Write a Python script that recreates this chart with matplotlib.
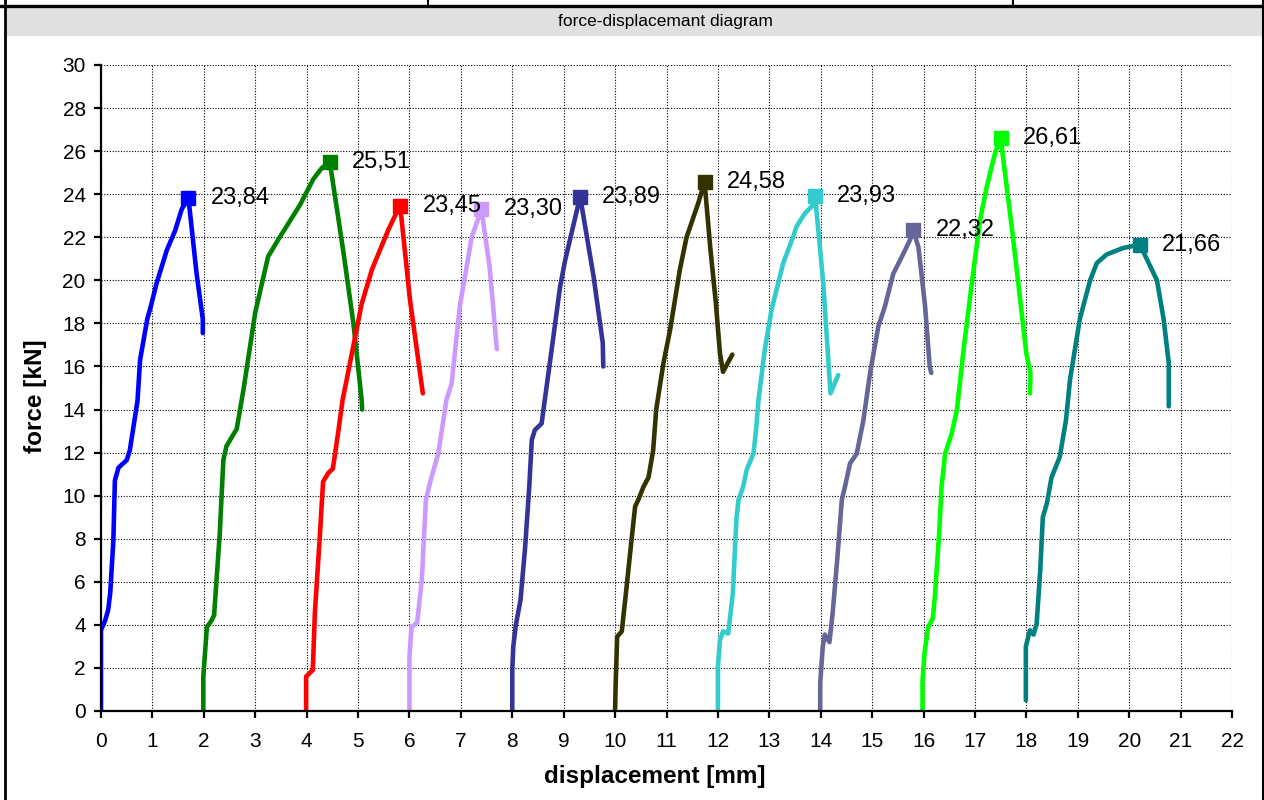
import matplotlib.pyplot as plt
from matplotlib.patches import Rectangle
from matplotlib.lines import Line2D
import numpy as np

plt.rcParams['font.family'] = ['Liberation Sans', 'DejaVu Sans']

# force-displacement curves
disp_1 = [0, 0, 0.08, 0.14, 0.18, 0.24, 0.27, 0.34, 0.5, 0.56, 0.71, 0.76, 0.9, 0.97, 1.08, 1.28, 1.44, 1.57, 1.70, 1.86, 1.98, 1.98]
force_1 = [0, 3.76, 4.2, 4.7, 5.5, 7.9, 10.7, 11.3, 11.65, 12.1, 14.4, 16.3, 18.2, 18.8, 19.85, 21.4, 22.3, 23.3, 23.84, 20.3, 18.2, 17.55]

disp_2 = [1.99, 1.99, 2.06, 2.15, 2.2, 2.31, 2.38, 2.44, 2.64, 2.77, 3.0, 3.25, 3.45, 3.87, 4.13, 4.29, 4.45, 4.71, 4.91, 5.07, 5.08]
force_2 = [0, 1.6, 3.9, 4.2, 4.45, 8.25, 11.65, 12.3, 13.1, 14.9, 18.5, 21.1, 21.9, 23.5, 24.7, 25.2, 25.51, 21.4, 18.0, 14.45, 14.0]

disp_3 = [3.99, 3.99, 4.12, 4.16, 4.26, 4.32, 4.42, 4.51, 4.62, 4.7, 4.78, 5.07, 5.27, 5.59, 5.78, 5.82, 6.01, 6.26]
force_3 = [0, 1.6, 1.9, 4.55, 8.25, 10.65, 11.05, 11.25, 13.05, 14.45, 15.4, 18.9, 20.5, 22.35, 23.3, 23.45, 19.1, 14.75]

disp_4 = [6.0, 6.0, 6.04, 6.15, 6.24, 6.32, 6.41, 6.56, 6.72, 6.82, 6.98, 7.21, 7.40, 7.56, 7.70]
force_4 = [0, 2.5, 3.9, 4.1, 6.1, 9.8, 10.7, 11.95, 14.45, 15.2, 18.8, 22.0, 23.30, 20.6, 16.8]

disp_5 = [8.0, 8.0, 8.02, 8.07, 8.16, 8.25, 8.33, 8.38, 8.44, 8.57, 8.73, 8.93, 9.03, 9.32, 9.58, 9.76, 9.77]
force_5 = [0, 1.9, 3.0, 4.0, 5.15, 7.6, 10.4, 12.6, 13.05, 13.35, 16.15, 19.7, 20.95, 23.89, 20.2, 17.1, 16.0]

disp_6 = [10.0, 10.01, 10.04, 10.13, 10.21, 10.32, 10.39, 10.45, 10.55, 10.65, 10.74, 10.8, 10.94, 11.07, 11.26, 11.39, 11.62, 11.74, 11.85, 11.96, 12.04, 12.1, 12.2, 12.28]
force_6 = [0, 1.15, 3.45, 3.7, 5.45, 7.95, 9.5, 9.8, 10.4, 10.85, 12.1, 14.0, 16.15, 17.7, 20.5, 22.0, 23.6, 24.58, 21.55, 18.95, 16.6, 15.75, 16.2, 16.55]

disp_7 = [12.0, 12.0, 12.04, 12.1, 12.2, 12.29, 12.36, 12.4, 12.49, 12.56, 12.69, 12.74, 12.79, 12.91, 13.04, 13.27, 13.46, 13.53, 13.69, 13.85, 13.89, 14.05, 14.19, 14.34]
force_7 = [0, 2.05, 3.3, 3.7, 3.6, 5.45, 8.9, 9.8, 10.4, 11.2, 11.95, 13.0, 14.45, 16.75, 18.6, 20.8, 22.0, 22.5, 23.1, 23.5, 23.93, 19.85, 14.75, 15.6]

disp_8 = [13.99, 13.99, 14.04, 14.08, 14.17, 14.23, 14.32, 14.41, 14.47, 14.57, 14.7, 14.83, 14.96, 15.12, 15.25, 15.41, 15.61, 15.74, 15.8, 15.9, 16.03, 16.12, 16.15]
force_8 = [0, 1.3, 3.0, 3.55, 3.2, 4.5, 7.0, 9.8, 10.4, 11.5, 11.95, 13.5, 15.7, 17.85, 18.8, 20.3, 21.25, 21.9, 22.32, 21.55, 18.8, 16.0, 15.7]

disp_9 = [15.98, 15.98, 16.02, 16.09, 16.18, 16.22, 16.3, 16.35, 16.42, 16.55, 16.65, 16.77, 16.93, 17.1, 17.23, 17.39, 17.5, 17.74, 18.0, 18.08, 18.07]
force_9 = [0, 1.4, 2.7, 3.9, 4.3, 5.3, 8.1, 10.4, 11.95, 12.9, 14.0, 16.6, 19.7, 22.8, 24.35, 25.9, 26.61, 22.0, 16.6, 15.7, 14.75]

disp_10 = [17.99, 17.99, 18.07, 18.14, 18.2, 18.27, 18.32, 18.4, 18.49, 18.65, 18.77, 18.85, 19.04, 19.24, 19.37, 19.56, 19.88, 20.21, 20.34, 20.54, 20.67, 20.77, 20.77]
force_10 = [0.5, 3.0, 3.75, 3.55, 4.05, 6.55, 9.0, 9.65, 10.85, 11.8, 13.5, 15.4, 18.2, 20.0, 20.8, 21.2, 21.5, 21.66, 21.0, 20.0, 18.2, 16.15, 14.15]

colors = ['#0000ff', '#008000', '#ff0000', '#cc99ff', '#333399',
          '#333300', '#33cccc', '#666699', '#00ff00', '#008080']

xs = [disp_1, disp_2, disp_3, disp_4, disp_5, disp_6, disp_7, disp_8, disp_9, disp_10]
ys = [force_1, force_2, force_3, force_4, force_5, force_6, force_7, force_8, force_9, force_10]

fig = plt.figure(figsize=(12.64, 8), dpi=100)
ax = fig.add_axes([101/1264, 89/800, 1131/1264, 646/800])

for x, y, c in zip(xs, ys, colors):
    ax.plot(x, y, color=c, lw=3.3, solid_capstyle='round', solid_joinstyle='round')
    i = int(np.argmax(y))
    ax.plot(x[i], y[i], 's', color=c, ms=10)

# peak labels on top of everything
for x, y in zip(xs, ys):
    i = int(np.argmax(y))
    ax.annotate(f"{y[i]:.2f}".replace('.', ','), (x[i], y[i]),
                xytext=(16, 0), textcoords='offset points',
                va='center', ha='left', fontsize=17, zorder=10)

ax.set_xlim(0, 22)
ax.set_ylim(0, 30)
ax.set_xticks(range(0, 23))
ax.set_yticks(range(0, 31, 2))
ax.grid(True, color='black', lw=0.8, linestyle=(0, (1, 1.5)))
ax.set_axisbelow(True)
for s in ['top', 'right']:
    ax.spines[s].set_visible(False)
for s in ['left', 'bottom']:
    ax.spines[s].set_linewidth(1.6)
ax.tick_params(direction='out', length=5, width=1.6, labelsize=15)
ax.tick_params(axis='x', pad=10)
ax.tick_params(axis='y', pad=6)
ax.set_xlabel('displacement [mm]', fontsize=17.5, fontweight='bold', va='center')
ax.set_ylabel('force [kN]', fontsize=17.5, fontweight='bold', va='center')
ax.xaxis.set_label_coords(0.49, -0.102)
ax.yaxis.set_label_coords(-0.058, 0.487)

# header band and frame
fig.add_artist(Rectangle((6.7/1264, 1 - 35.5/800), (1262 - 6.7)/1264, 28.2/800,
                         transform=fig.transFigure, facecolor='#e0e0e0', edgecolor='none'))
fig.text(665/1264, 1 - 21.5/800, 'force-displacemant diagram', ha='center', va='center', fontsize=12.5)
fig.add_artist(Line2D([0, 1], [1 - 5.7/800] * 2, color='black', lw=2.4))
for xp in [428, 1013]:
    fig.add_artist(Line2D([xp/1264] * 2, [1 - 5/800, 1], color='black', lw=1.5))
fig.add_artist(Line2D([5.3/1264] * 2, [0, 1], color='black', lw=2))
fig.add_artist(Line2D([1263/1264] * 2, [0, 1], color='black', lw=1.5))

fig.savefig('out.png', dpi=100)
